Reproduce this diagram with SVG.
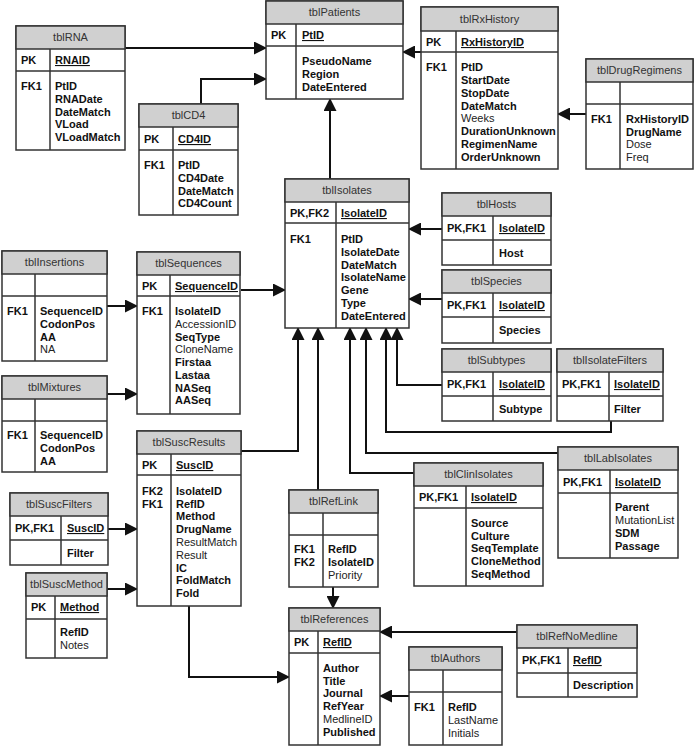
<svg xmlns="http://www.w3.org/2000/svg" width="694" height="746" viewBox="0 0 694 746">
<style>
.b{fill:#fff;stroke:#333;stroke-width:1.5}
.t{fill:#d0d0d0;stroke:#333;stroke-width:1.5}
.l{stroke:#333;stroke-width:1.5}
text{font-family:"Liberation Sans",Arial,sans-serif;font-size:11px;fill:#111}
.tt{text-anchor:middle;fill:#333}
.k{font-weight:bold}
.u{font-weight:bold;text-decoration:underline}
.n{fill:#222}
.c{fill:none;stroke:#111;stroke-width:2;marker-end:url(#a)}
</style>
<defs><marker id="a" markerUnits="userSpaceOnUse" markerWidth="13" markerHeight="13" refX="12" refY="6.5" orient="auto"><path d="M0,0 L13,6.5 L0,13 Z" fill="#111"/></marker></defs>
<g id="connectors">
<path class="c" d="M125,48 H266"/>
<path class="c" d="M201,104 V79 H266"/>
<path class="c" d="M330,179 V99"/>
<path class="c" d="M421,52 H403"/>
<path class="c" d="M586,114 H558"/>
<path class="c" d="M442,229 H409"/>
<path class="c" d="M442,299 H409"/>
<path class="c" d="M442,385 H397 V328"/>
<path class="c" d="M611,421 V432 H386 V328"/>
<path class="c" d="M558,453 H366 V328"/>
<path class="c" d="M414,473 H350 V328"/>
<path class="c" d="M318,490 V328"/>
<path class="c" d="M241,451 H298 V328"/>
<path class="c" d="M333,587 V608"/>
<path class="c" d="M189,606 V677 H289"/>
<path class="c" d="M517,632 H380"/>
<path class="c" d="M409,696 H380"/>
<path class="c" d="M241,290 H285"/>
<path class="c" d="M107,306 H137"/>
<path class="c" d="M107,394 H137"/>
<path class="c" d="M108,529 H137"/>
<path class="c" d="M107,589 H137"/>
</g>
<g id="tblPatients"><rect class="b" x="266" y="1" width="137" height="98"/><rect class="t" x="266" y="1" width="137" height="23"/><line class="l" x1="266" y1="46" x2="403" y2="46"/><line class="l" x1="296" y1="24" x2="296" y2="99"/>
<text class="tt" x="334.5" y="16">tblPatients</text><text class="k" x="271" y="39">PK</text><text class="u" x="302" y="39">PtID</text>
<text class="k" x="302" y="65">PseudoName</text><text class="k" x="302" y="78">Region</text><text class="k" x="302" y="91">DateEntered</text></g>
<g id="tblRNA"><rect class="b" x="16" y="26" width="109" height="124"/><rect class="t" x="16" y="26" width="109" height="23"/><line class="l" x1="16" y1="71" x2="125" y2="71"/><line class="l" x1="50" y1="49" x2="50" y2="150"/>
<text class="tt" x="70.5" y="41">tblRNA</text><text class="k" x="21" y="64">PK</text><text class="u" x="55" y="64">RNAID</text>
<text class="k" x="21" y="90">FK1</text><text class="k" x="55" y="90">PtID</text><text class="k" x="55" y="103">RNADate</text><text class="k" x="55" y="116">DateMatch</text><text class="k" x="55" y="128">VLoad</text><text class="k" x="55" y="141">VLoadMatch</text></g>
<g id="tblCD4"><rect class="b" x="139" y="104" width="99" height="111"/><rect class="t" x="139" y="104" width="99" height="23"/><line class="l" x1="139" y1="150" x2="238" y2="150"/><line class="l" x1="173" y1="127" x2="173" y2="215"/>
<text class="tt" x="188.5" y="119">tblCD4</text><text class="k" x="144" y="143">PK</text><text class="u" x="178" y="143">CD4ID</text>
<text class="k" x="144" y="169">FK1</text><text class="k" x="178" y="169">PtID</text><text class="k" x="178" y="182">CD4Date</text><text class="k" x="178" y="195">DateMatch</text><text class="k" x="178" y="207">CD4Count</text></g>
<g id="tblRxHistory"><rect class="b" x="421" y="7" width="137" height="162"/><rect class="t" x="421" y="7" width="137" height="24"/><line class="l" x1="421" y1="52" x2="558" y2="52"/><line class="l" x1="456" y1="31" x2="456" y2="169"/>
<text class="tt" x="489.5" y="23">tblRxHistory</text><text class="k" x="426" y="46">PK</text><text class="u" x="461" y="46">RxHistoryID</text>
<text class="k" x="426" y="71">FK1</text><text class="k" x="461" y="71">PtID</text><text class="k" x="461" y="84">StartDate</text><text class="k" x="461" y="97">StopDate</text><text class="k" x="461" y="110">DateMatch</text><text class="n" x="461" y="122">Weeks</text><text class="k" x="461" y="135">DurationUnknown</text><text class="k" x="461" y="148">RegimenName</text><text class="k" x="461" y="161">OrderUnknown</text></g>
<g id="tblDrugRegimens"><rect class="b" x="586" y="59" width="107" height="110"/><rect class="t" x="586" y="59" width="107" height="23"/><line class="l" x1="586" y1="104" x2="693" y2="104"/><line class="l" x1="620" y1="82" x2="620" y2="169"/>
<text class="tt" x="639.5" y="74">tblDrugRegimens</text>
<text class="k" x="591" y="123">FK1</text><text class="k" x="626" y="123">RxHistoryID</text><text class="k" x="626" y="136">DrugName</text><text class="n" x="626" y="148">Dose</text><text class="n" x="626" y="161">Freq</text></g>
<g id="tblIsolates"><rect class="b" x="285" y="179" width="124" height="149"/><rect class="t" x="285" y="179" width="124" height="23"/><line class="l" x1="285" y1="223" x2="409" y2="223"/><line class="l" x1="336" y1="202" x2="336" y2="328"/>
<text class="tt" x="347" y="194">tblIsolates</text><text class="k" x="290" y="217">PK,FK2</text><text class="u" x="341" y="217">IsolateID</text>
<text class="k" x="290" y="243">FK1</text><text class="k" x="341" y="243">PtID</text><text class="k" x="341" y="256">IsolateDate</text><text class="k" x="341" y="269">DateMatch</text><text class="k" x="341" y="281">IsolateName</text><text class="k" x="341" y="294">Gene</text><text class="k" x="341" y="307">Type</text><text class="k" x="341" y="320">DateEntered</text></g>
<g id="tblHosts"><rect class="b" x="442" y="193" width="109" height="72"/><rect class="t" x="442" y="193" width="109" height="23"/><line class="l" x1="442" y1="240" x2="551" y2="240"/><line class="l" x1="493" y1="216" x2="493" y2="265"/>
<text class="tt" x="496.5" y="208">tblHosts</text><text class="k" x="447" y="232">PK,FK1</text><text class="u" x="499" y="232">IsolateID</text><text class="k" x="499" y="257">Host</text></g>
<g id="tblSpecies"><rect class="b" x="442" y="270" width="109" height="73"/><rect class="t" x="442" y="270" width="109" height="23"/><line class="l" x1="442" y1="317" x2="551" y2="317"/><line class="l" x1="493" y1="293" x2="493" y2="343"/>
<text class="tt" x="496.5" y="285">tblSpecies</text><text class="k" x="447" y="309">PK,FK1</text><text class="u" x="499" y="309">IsolateID</text><text class="k" x="499" y="334">Species</text></g>
<g id="tblSubtypes"><rect class="b" x="442" y="349" width="109" height="72"/><rect class="t" x="442" y="349" width="109" height="23"/><line class="l" x1="442" y1="396" x2="551" y2="396"/><line class="l" x1="493" y1="372" x2="493" y2="421"/>
<text class="tt" x="496.5" y="364">tblSubtypes</text><text class="k" x="447" y="388">PK,FK1</text><text class="u" x="499" y="388">IsolateID</text><text class="k" x="499" y="413">Subtype</text></g>
<g id="tblIsolateFilters"><rect class="b" x="557" y="349" width="106" height="72"/><rect class="t" x="557" y="349" width="106" height="23"/><line class="l" x1="557" y1="396" x2="663" y2="396"/><line class="l" x1="609" y1="372" x2="609" y2="421"/>
<text class="tt" x="610" y="364">tblIsolateFilters</text><text class="k" x="562" y="388">PK,FK1</text><text class="u" x="614" y="388">IsolateID</text><text class="k" x="614" y="413">Filter</text></g>
<g id="tblInsertions"><rect class="b" x="2" y="251" width="105" height="110"/><rect class="t" x="2" y="251" width="105" height="23"/><line class="l" x1="2" y1="296" x2="107" y2="296"/><line class="l" x1="35" y1="274" x2="35" y2="361"/>
<text class="tt" x="54.5" y="266">tblInsertions</text>
<text class="k" x="7" y="315">FK1</text><text class="k" x="40" y="315">SequenceID</text><text class="k" x="40" y="328">CodonPos</text><text class="k" x="40" y="341">AA</text><text class="n" x="40" y="353">NA</text></g>
<g id="tblMixtures"><rect class="b" x="2" y="376" width="105" height="96"/><rect class="t" x="2" y="376" width="105" height="23"/><line class="l" x1="2" y1="421" x2="107" y2="421"/><line class="l" x1="35" y1="399" x2="35" y2="472"/>
<text class="tt" x="54.5" y="391">tblMixtures</text>
<text class="k" x="7" y="439">FK1</text><text class="k" x="40" y="439">SequenceID</text><text class="k" x="40" y="452">CodonPos</text><text class="k" x="40" y="465">AA</text></g>
<g id="tblSequences"><rect class="b" x="137" y="252" width="103" height="162"/><rect class="t" x="137" y="252" width="103" height="23"/><line class="l" x1="137" y1="296" x2="240" y2="296"/><line class="l" x1="170" y1="275" x2="170" y2="414"/>
<text class="tt" x="188.5" y="267">tblSequences</text><text class="k" x="142" y="290">PK</text><text class="u" x="175" y="290">SequenceID</text>
<text class="k" x="142" y="315">FK1</text><text class="k" x="175" y="315">IsolateID</text><text class="n" x="175" y="328">AccessionID</text><text class="k" x="175" y="341">SeqType</text><text class="n" x="175" y="353">CloneName</text><text class="k" x="175" y="366">Firstaa</text><text class="k" x="175" y="379">Lastaa</text><text class="k" x="175" y="392">NASeq</text><text class="k" x="175" y="404">AASeq</text></g>
<g id="tblSuscResults"><rect class="b" x="137" y="431" width="104" height="175"/><rect class="t" x="137" y="431" width="104" height="23"/><line class="l" x1="137" y1="475" x2="241" y2="475"/><line class="l" x1="171" y1="454" x2="171" y2="606"/>
<text class="tt" x="189" y="446">tblSuscResults</text><text class="k" x="142" y="469">PK</text><text class="u" x="176" y="469">SuscID</text>
<text class="k" x="142" y="495">FK2</text><text class="k" x="142" y="508">FK1</text>
<text class="k" x="176" y="495">IsolateID</text><text class="k" x="176" y="508">RefID</text><text class="k" x="176" y="520">Method</text><text class="k" x="176" y="533">DrugName</text><text class="n" x="176" y="546">ResultMatch</text><text class="n" x="176" y="559">Result</text><text class="k" x="176" y="572">IC</text><text class="k" x="176" y="584">FoldMatch</text><text class="k" x="176" y="597">Fold</text></g>
<g id="tblSuscFilters"><rect class="b" x="10" y="493" width="98" height="72"/><rect class="t" x="10" y="493" width="98" height="23"/><line class="l" x1="10" y1="540" x2="108" y2="540"/><line class="l" x1="61" y1="516" x2="61" y2="565"/>
<text class="tt" x="59" y="508">tblSuscFilters</text><text class="k" x="15" y="532">PK,FK1</text><text class="u" x="67" y="532">SuscID</text><text class="k" x="67" y="557">Filter</text></g>
<g id="tblSuscMethod"><rect class="b" x="26" y="573" width="81" height="85"/><rect class="t" x="26" y="573" width="81" height="23"/><line class="l" x1="26" y1="619" x2="107" y2="619"/><line class="l" x1="55" y1="596" x2="55" y2="658"/>
<text class="tt" x="66.5" y="588">tblSuscMethod</text><text class="k" x="31" y="611">PK</text><text class="u" x="60" y="611">Method</text><text class="k" x="60" y="636">RefID</text><text class="n" x="60" y="649">Notes</text></g>
<g id="tblRefLink"><rect class="b" x="289" y="490" width="89" height="97"/><rect class="t" x="289" y="490" width="89" height="23"/><line class="l" x1="289" y1="535" x2="378" y2="535"/><line class="l" x1="323" y1="513" x2="323" y2="587"/>
<text class="tt" x="333.5" y="505">tblRefLink</text>
<text class="k" x="294" y="553">FK1</text><text class="k" x="294" y="566">FK2</text><text class="k" x="328" y="553">RefID</text><text class="k" x="328" y="566">IsolateID</text><text class="n" x="328" y="579">Priority</text></g>
<g id="tblClinIsolates"><rect class="b" x="414" y="463" width="129" height="123"/><rect class="t" x="414" y="463" width="129" height="23"/><line class="l" x1="414" y1="508" x2="543" y2="508"/><line class="l" x1="466" y1="486" x2="466" y2="586"/>
<text class="tt" x="478.5" y="478">tblClinIsolates</text><text class="k" x="419" y="501">PK,FK1</text><text class="u" x="471" y="501">IsolateID</text>
<text class="k" x="471" y="527">Source</text><text class="k" x="471" y="540">Culture</text><text class="k" x="471" y="552">SeqTemplate</text><text class="k" x="471" y="565">CloneMethod</text><text class="k" x="471" y="578">SeqMethod</text></g>
<g id="tblLabIsolates"><rect class="b" x="558" y="447" width="120" height="111"/><rect class="t" x="558" y="447" width="120" height="23"/><line class="l" x1="558" y1="493" x2="678" y2="493"/><line class="l" x1="610" y1="470" x2="610" y2="558"/>
<text class="tt" x="618" y="462">tblLabIsolates</text><text class="k" x="563" y="486">PK,FK1</text><text class="u" x="615" y="486">IsolateID</text>
<text class="k" x="615" y="511">Parent</text><text class="n" x="615" y="524">MutationList</text><text class="k" x="615" y="537">SDM</text><text class="k" x="615" y="550">Passage</text></g>
<g id="tblReferences"><rect class="b" x="289" y="608" width="91" height="137"/><rect class="t" x="289" y="608" width="91" height="23"/><line class="l" x1="289" y1="653" x2="380" y2="653"/><line class="l" x1="318" y1="631" x2="318" y2="745"/>
<text class="tt" x="334.5" y="623">tblReferences</text><text class="k" x="294" y="646">PK</text><text class="u" x="323" y="646">RefID</text>
<text class="k" x="323" y="672">Author</text><text class="k" x="323" y="685">Title</text><text class="k" x="323" y="697">Journal</text><text class="k" x="323" y="710">RefYear</text><text class="n" x="323" y="723">MedlineID</text><text class="k" x="323" y="736">Published</text></g>
<g id="tblRefNoMedline"><rect class="b" x="517" y="625" width="120" height="72"/><rect class="t" x="517" y="625" width="120" height="23"/><line class="l" x1="517" y1="673" x2="637" y2="673"/><line class="l" x1="568" y1="648" x2="568" y2="697"/>
<text class="tt" x="577" y="640">tblRefNoMedline</text><text class="k" x="522" y="664">PK,FK1</text><text class="u" x="573" y="664">RefID</text><text class="k" x="573" y="689">Description</text></g>
<g id="tblAuthors"><rect class="b" x="409" y="647" width="93" height="98"/><rect class="t" x="409" y="647" width="93" height="23"/><line class="l" x1="409" y1="692" x2="502" y2="692"/><line class="l" x1="443" y1="670" x2="443" y2="745"/>
<text class="tt" x="455.5" y="662">tblAuthors</text>
<text class="k" x="414" y="711">FK1</text><text class="k" x="448" y="711">RefID</text><text class="n" x="448" y="724">LastName</text><text class="n" x="448" y="737">Initials</text></g>
</svg>
